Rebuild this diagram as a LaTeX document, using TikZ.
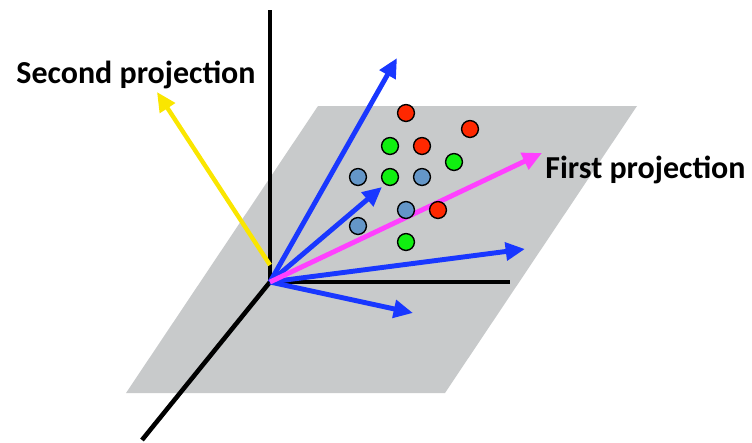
\documentclass[tikz,border=0pt]{standalone}
\usepackage{fontspec}
\setmainfont{Carlito}
\usetikzlibrary{arrows.meta}

\definecolor{plane}{RGB}{200,202,203}
\definecolor{vblue}{RGB}{25,55,255}
\definecolor{vpink}{RGB}{255,64,255}
\definecolor{vyellow}{RGB}{250,230,0}
\definecolor{dred}{RGB}{255,40,0}
\definecolor{dgreen}{RGB}{16,240,16}
\definecolor{dblue}{RGB}{100,150,200}

\begin{document}
\begin{tikzpicture}[x=0.02cm, y=-0.02cm,
    axis/.style={line width=2.6pt, black},
    vec/.style={line width=2.8pt, -{Triangle[length=11pt, width=10pt]}},
    pt/.style={circle, draw=black, line width=0.8pt, inner sep=0pt, minimum size=9.6pt},
    lbl/.style={font=\bfseries\fontsize{18.2}{21}\selectfont, inner sep=0pt}]
	\useasboundingbox (0,0) rectangle (752,443);

	% plane
	\fill[plane] (318,106) -- (637,106) -- (445,393) -- (126,393) -- cycle;

	% axes
	\coordinate (o) at (270,282);
	\coordinate (ztop) at (270,10);
	\coordinate (xend) at (510,282);
	\coordinate (yend) at (142,440);
	\draw[axis] (o) -- (ztop);
	\draw[axis] (o) -- (xend);
	\draw[axis] (o) -- (yend);

	% vectors
	\coordinate (b1) at (397,58);
	\coordinate (b2) at (382,187);
	\coordinate (b3) at (525,249);
	\coordinate (b4) at (413,313);
	\draw[vec, vblue] (o) -- (b1);
	\draw[vec, vblue] (o) -- (b2);
	\draw[vec, vblue] (o) -- (b3);
	\draw[vec, vblue] (o) -- (b4);

	\coordinate (ys) at (270,265);
	\node[lbl] (second) at (136,75) {Second projection};
	\coordinate (ytip) at (157,92);
	\draw[vec, vyellow, line width=2.5pt] (ys) -- (ytip);

	\node[lbl, anchor=west] (first) at (545,170) {First projection};
	\coordinate (ptip) at (542,153);
	\draw[vec, vpink] (o) -- (ptip);

	% data points
	\node[pt, fill=dred] (p1) at (406,113) {};
	\node[pt, fill=dred] (p2) at (470,129) {};
	\node[pt, fill=dgreen] (p3) at (390,146) {};
	\node[pt, fill=dred] (p4) at (422,146) {};
	\node[pt, fill=dgreen] (p5) at (454,162) {};
	\node[pt, fill=dblue] (p6) at (358,177) {};
	\node[pt, fill=dgreen] (p7) at (390,177) {};
	\node[pt, fill=dblue] (p8) at (422,177) {};
	\node[pt, fill=dblue] (p9) at (406,210) {};
	\node[pt, fill=dred] (p10) at (438,210) {};
	\node[pt, fill=dblue] (p11) at (358,226) {};
	\node[pt, fill=dgreen] (p12) at (406,242) {};
\end{tikzpicture}
\end{document}
